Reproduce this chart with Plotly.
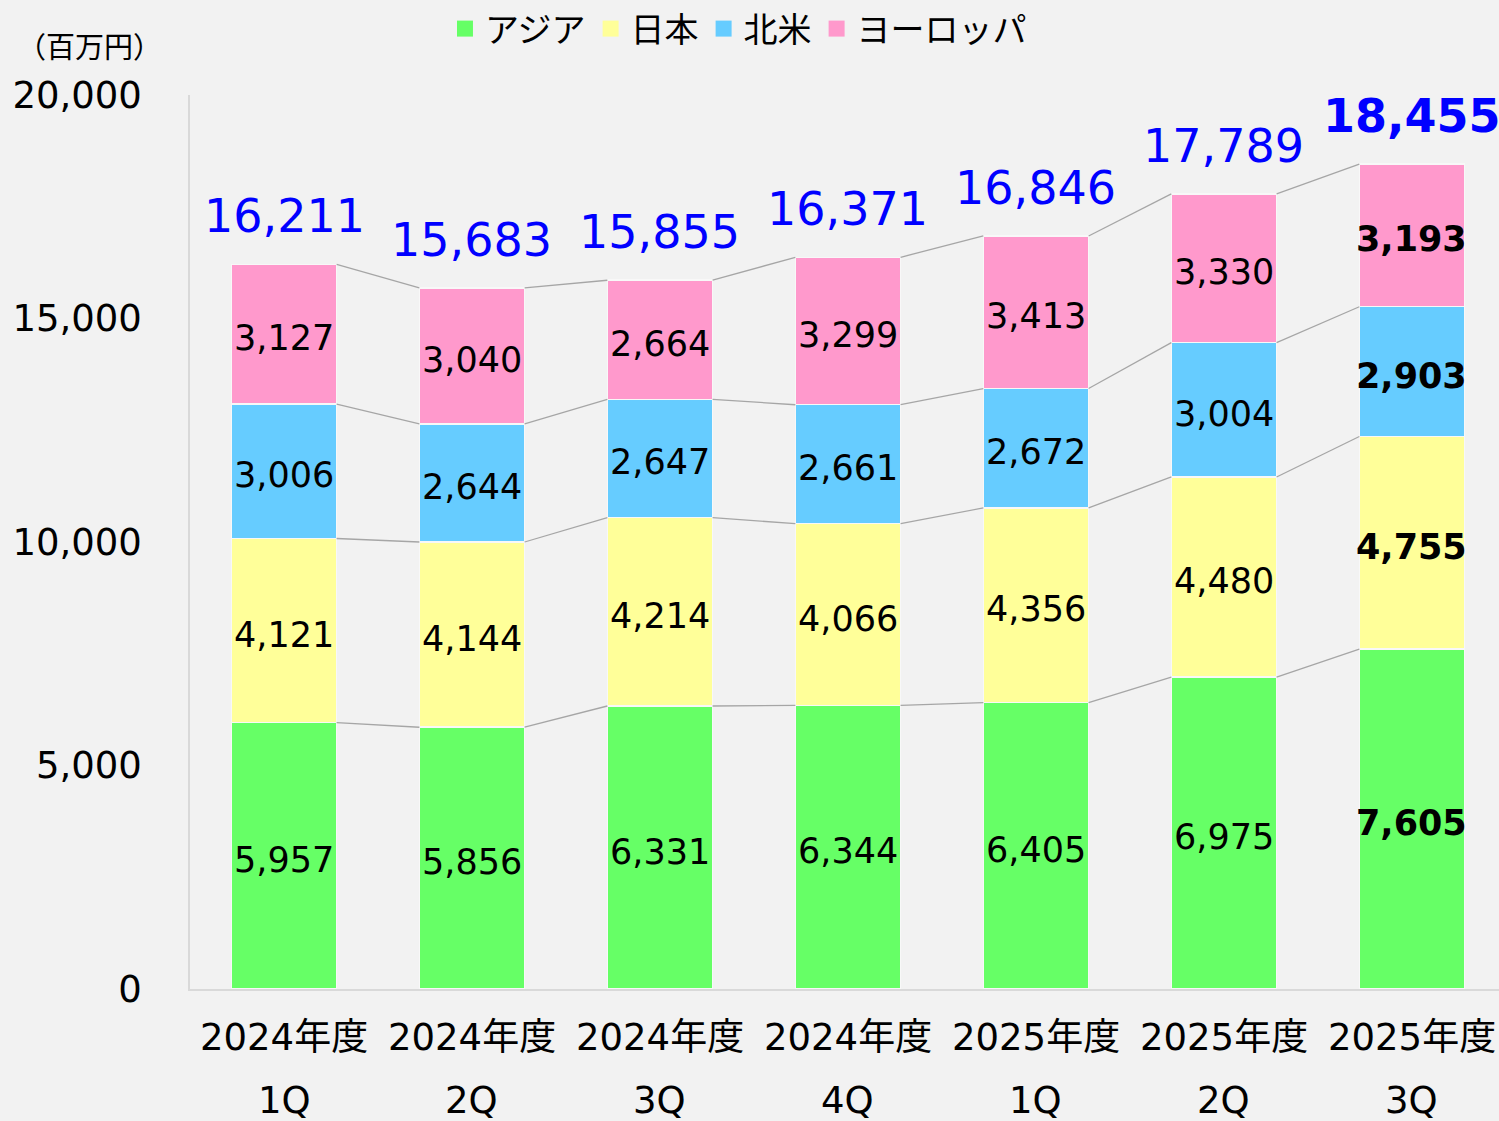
import plotly.graph_objects as go

# ---- data ----
years = ["2024年度", "2024年度", "2024年度", "2024年度", "2025年度", "2025年度", "2025年度"]
quarters = ["1Q", "2Q", "3Q", "4Q", "1Q", "2Q", "3Q"]
asia = [5957, 5856, 6331, 6344, 6405, 6975, 7605]
japan = [4121, 4144, 4214, 4066, 4356, 4480, 4755]
north_america = [3006, 2644, 2647, 2661, 2672, 3004, 2903]
europe = [3127, 3040, 2664, 3299, 3413, 3330, 3193]
totals = [16211, 15683, 15855, 16371, 16846, 17789, 18455]
series_names = ["アジア", "日本", "北米", "ヨーロッパ"]
y_ticks = [0, 5000, 10000, 15000, 20000]

colors = ["#66FF66", "#FFFF99", "#66CCFF", "#FF99CC"]
FONT = "Meiryo, 'DejaVu Sans', 'Noto Sans CJK JP', sans-serif"
BG = "#F2F2F2"
BAR_W = 0.56

series = [asia, japan, north_america, europe]
n = len(asia)
xs = list(range(n))

fig = go.Figure()

# stacked bars
for name, vals, col in zip(series_names, series, colors):
    fig.add_trace(go.Bar(
        x=xs, y=vals, name=name, width=BAR_W,
        marker=dict(color=col, line=dict(color="#F8F8F8", width=1.5)),
        hoverinfo="skip", showlegend=False,
    ))

# legend entries (square markers)
for name, col in zip(series_names, colors):
    fig.add_trace(go.Scatter(
        x=[None], y=[None], mode="markers", name=name,
        marker=dict(symbol="square", size=16, color=col),
        showlegend=True, hoverinfo="skip",
    ))

# cumulative tops
cums = []
running = [0] * n
for vals in series:
    running = [r + v for r, v in zip(running, vals)]
    cums.append(list(running))

# connector lines
for cum in cums:
    lx, ly = [], []
    for i in range(n - 1):
        lx += [i + BAR_W / 2, i + 1 - BAR_W / 2, None]
        ly += [cum[i], cum[i + 1], None]
    fig.add_trace(go.Scatter(x=lx, y=ly, mode="lines",
                             line=dict(color="#A6A6A6", width=1.3),
                             showlegend=False, hoverinfo="skip"))

# segment labels
for k, vals in enumerate(series):
    for i, v in enumerate(vals):
        t = f"{v:,}"
        if i == n - 1:
            t = f"<b>{t}</b>"
        fig.add_annotation(x=i, y=cums[k][i] - v / 2, text=t, showarrow=False,
                           yanchor="middle", yshift=-4,
                           font=dict(family=FONT, size=35, color="#000000"))

# total labels
for i, t in enumerate(totals):
    txt = f"{t:,}"
    if i == n - 1:
        txt = f"<b>{txt}</b>"
    fig.add_annotation(x=i, y=t, text=txt, showarrow=False,
                       yanchor="bottom", yshift=19,
                       font=dict(family=FONT, size=46, color="#0000FF"))

# category labels (two lines)
for i in range(n):
    fig.add_annotation(x=i, y=0, text=years[i], showarrow=False,
                       yanchor="middle", yshift=-48,
                       font=dict(family=FONT, size=37, color="#000000"))
    fig.add_annotation(x=i, y=0, text=quarters[i], showarrow=False,
                       yanchor="middle", yshift=-111,
                       font=dict(family=FONT, size=37, color="#000000"))

# unit label
fig.add_annotation(xref="paper", yref="paper", x=-0.0764, y=1.0526,
                   text="（百万円）", showarrow=False,
                   xanchor="center", yanchor="middle",
                   font=dict(family=FONT, size=29, color="#000000"))

fig.update_layout(
    width=1499, height=1121,
    paper_bgcolor=BG, plot_bgcolor=BG,
    barmode="stack",
    margin=dict(l=190, r=0, t=95, b=132, autoexpand=False),
    font=dict(family=FONT, color="#000000"),
    showlegend=True,
    legend=dict(orientation="h", x=0.419, xanchor="center",
                yref="container", y=1.0, yanchor="top",
                font=dict(family=FONT, size=34, color="#000000"),
                bgcolor="rgba(0,0,0,0)", itemwidth=30,
                traceorder="normal", tracegroupgap=0),
    xaxis=dict(range=[-0.5, 6.463], tickvals=xs, showticklabels=False,
               showgrid=False, zeroline=False, showline=True,
               linecolor="#D9D9D9", linewidth=1.5, ticks="", fixedrange=True),
    yaxis=dict(range=[0, 20000], tickvals=y_ticks,
               ticktext=[f"{v:,}" for v in y_ticks],
               showgrid=False, zeroline=False, showline=True,
               linecolor="#D9D9D9", linewidth=1.5, ticks="",
               ticklabelstandoff=39, automargin=False,
               tickfont=dict(family=FONT, size=37, color="#000000")),
)

fig.write_html("out.html", config={"displayModeBar": False},
               post_script="document.body.style.margin='0';document.body.style.overflow='hidden';")
